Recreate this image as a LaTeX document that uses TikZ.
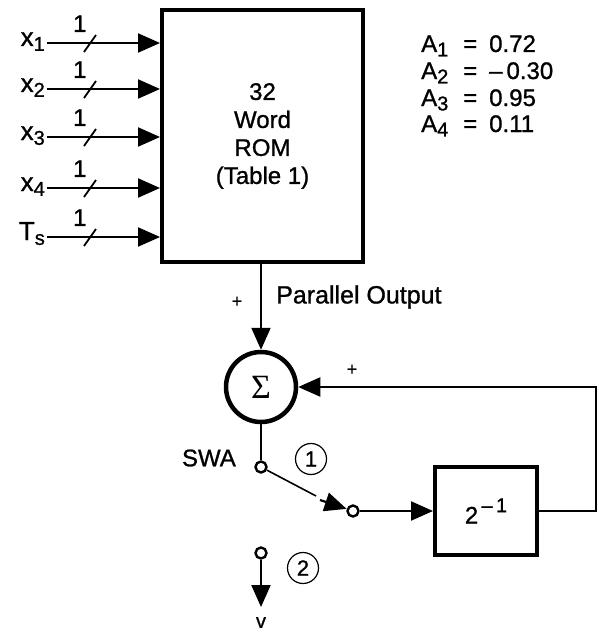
\documentclass[tikz,border=0pt]{standalone}
\usepackage{fontspec}
\setmainfont{Liberation Sans}[FakeBold=1]
\newfontfamily\sigmafont{Liberation Serif}
\usetikzlibrary{arrows.meta,positioning}
\newcommand{\lowidx}[1]{\raisebox{-0.35ex}{\fontsize{20}{20}\selectfont #1}}

\tikzset{
  flow/.style={line width=2.2pt, -{Triangle[length=22pt,width=19pt]}},
  wire/.style={line width=2.2pt},
  block/.style={draw, line width=4pt, inner sep=2pt, align=center},
  term/.style={draw, circle, line width=2.4pt, minimum size=11pt, inner sep=0pt, fill=white},
  tag/.style={draw, circle, line width=1.2pt, minimum size=31pt, inner sep=0pt, font=\fontsize{22}{22}\selectfont},
  small/.style={font=\fontsize{18}{18}\selectfont}
}

\begin{document}
\begin{tikzpicture}[x=1pt, y=-1pt, inner sep=2pt, font=\fontsize{24}{28}\selectfont]
\useasboundingbox (0,0) rectangle (599,634);

% ROM
\node[block, minimum width=201pt, minimum height=252pt] (rom) at (262.5,136) {32\\Word\\ROM\\(Table 1)};

% Entrees
\foreach \i/\lab/\yy in {1/{x\lowidx{1}}/43, 2/{x\lowidx{2}}/89, 3/{x\lowidx{3}}/137, 4/{x\lowidx{4}}/188, 5/{T\lowidx{s}}/237} {
  \coordinate (in\i) at (47,\yy);
  \node[anchor=base east, font=\fontsize{26}{28}\selectfont] (lab\i) at ([yshift=-3pt]in\i) {\lab};
  \draw[flow] (in\i) -- node[pos=0.29, above=8pt] (one\i) {1} (in\i -| rom.west);
  \draw[line width=1.8pt] ([xshift=43pt]in\i) ++(-6pt,-9pt) -- ++(12pt,17pt);
}

% Coefficients
\foreach \i/\val/\yy in {1/0.72/52, 2/{--\,0.30}/79, 3/0.95/106, 4/0.11/132} {
  \node[anchor=base west, inner sep=0pt] (a\i) at (421,\yy) {A\lowidx{\i}};
  \node[anchor=base west, inner sep=0pt] (eq\i) at (463,\yy) {=};
  \node[anchor=base west, inner sep=0pt] (v\i) at (489,\yy) {\val};
}

% Sommateur
\node[draw, circle, line width=4.5pt, minimum size=70pt, inner sep=0pt, font=\fontsize{34}{34}\sigmafont] (sum) at (261,387) {Σ};
\draw[flow] (rom.south -| sum.north) -- (sum.north);
\node[small] (plus1) at (237,302) {+};
\node[anchor=west, font=\fontsize{25}{28}\selectfont] (par) at (274,297) {Parallel Output};

% Bloc 2^-1
\node[block, minimum width=102pt, minimum height=88pt] (half) at (486,511) {2\raisebox{0.9ex}{\fontsize{20}{20}\selectfont\,--\,1}};
\draw[flow] (half.east) -- ++(57pt,0) |- (sum.east);
\node[small] (plus2) at (352,370) {+};

% Commutateur
\node[term] (swa) at (261,467) {};
\draw[wire] (sum.south) -- (swa.north);
\node[anchor=east] (swalab) at (238,458) {SWA};
\node[tag] (pos1) at (311,459) {1};
\node[term] (t1) at (353,511) {};
\coordinate (armend) at (316,496);
\coordinate (armgap) at (320,500);
\draw[line width=1.6pt] (swa) -- (armend);
\draw[flow] (armgap) -- (t1);
\draw[flow] (t1) -- (half.west);

% Sortie
\node[term] (t2) at (261,553) {};
\node[tag] (pos2) at (303,568) {2};
\coordinate (vtip) at (261,607);
\draw[flow] (t2) -- (vtip);
\node[below=8pt of vtip, font=\fontsize{20}{20}\selectfont] (vout) {v};

\end{tikzpicture}
\end{document}
